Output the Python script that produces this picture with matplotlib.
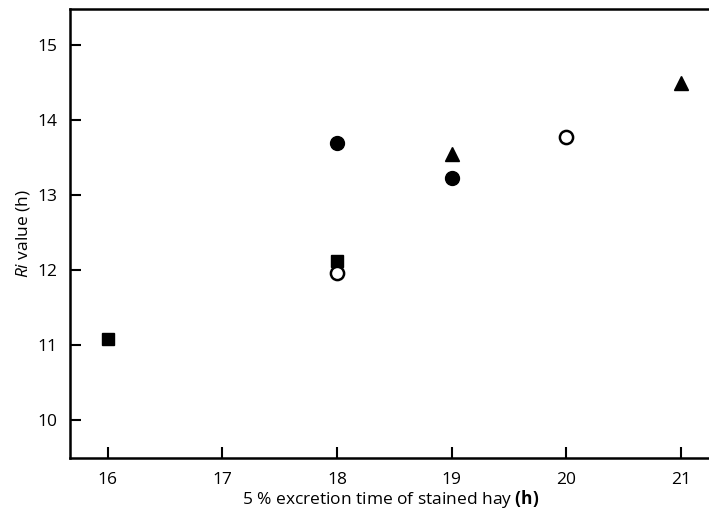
import matplotlib
matplotlib.use("Agg")
import matplotlib.pyplot as plt

plt.rcParams['font.family'] = ['Open Sans', 'DejaVu Sans']
plt.rcParams['mathtext.fontset'] = 'custom'
plt.rcParams['mathtext.rm'] = 'Open Sans'
plt.rcParams['mathtext.it'] = 'Open Sans:italic'
plt.rcParams['mathtext.bf'] = 'Open Sans:bold'

# Data (x: 5% excretion time of stained hay, y: Ri value)
sq_x = [16, 18]
sq_y = [11.08, 12.12]
fc_x = [18, 19]
fc_y = [13.69, 13.23]
oc_x = [18, 20]
oc_y = [11.96, 13.77]
tr_x = [19, 21]
tr_y = [13.55, 14.49]

xticks = [16, 17, 18, 19, 20, 21]
yticks = [10, 11, 12, 13, 14, 15]

fig = plt.figure(figsize=(7.09, 5.15), dpi=100)
ax = fig.add_axes([0.0987, 0.1107, 0.905, 0.8718])

ax.plot(sq_x, sq_y, linestyle='none', marker='s', color='black', markersize=8.5)
ax.plot(oc_x, oc_y, linestyle='none', marker='o', markerfacecolor='white',
        markeredgecolor='black', markeredgewidth=1.8, markersize=9.5)
ax.plot(fc_x, fc_y, linestyle='none', marker='o', color='black', markersize=10)
ax.plot(tr_x, tr_y, linestyle='none', marker='^', color='black', markersize=10)

ax.set_xlim(15.67, 21.27)
ax.set_ylim(9.49, 15.48)
ax.set_xticks(xticks)
ax.set_yticks(yticks)
ax.tick_params(axis='both', direction='in', length=8, width=1.5, labelsize=12.5,
               colors='black')
ax.tick_params(axis='x', pad=10)
ax.tick_params(axis='y', pad=9)

for s in ['left', 'bottom', 'top']:
    ax.spines[s].set_linewidth(1.8)
ax.spines['right'].set_visible(False)

ax.set_xlabel(r"5 % excretion time of stained hay $\mathbf{(h)}$", fontsize=12.5, labelpad=0)
ax.set_ylabel(r"$\mathit{Ri}$ value (h)", fontsize=12.5, labelpad=4)

fig.savefig("out.png", dpi=100)
